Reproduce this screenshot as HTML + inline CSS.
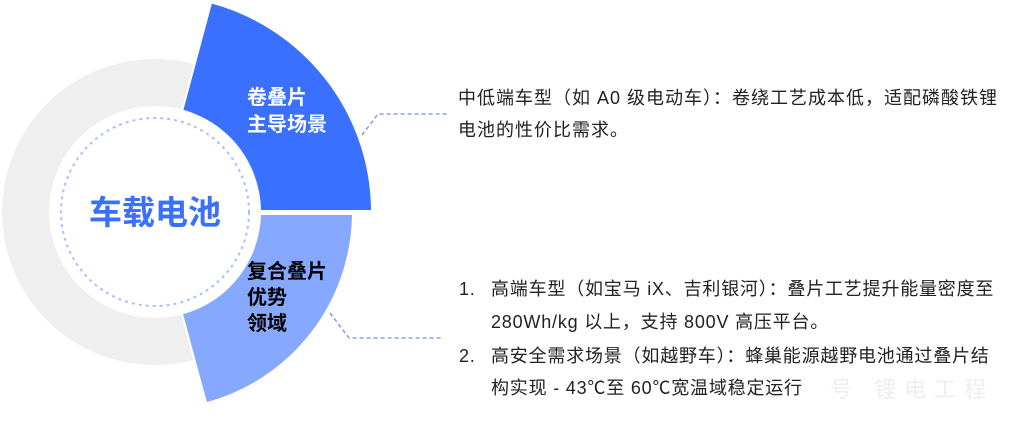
<!DOCTYPE html>
<html><head><meta charset="utf-8"><style>
html,body{margin:0;padding:0;background:#fff;}
body{width:1024px;height:437px;position:relative;overflow:hidden;font-family:"Liberation Sans","Noto Sans CJK SC",sans-serif;}
.t{position:absolute;font-size:18px;color:#222;white-space:nowrap;line-height:32px;letter-spacing:0.8px;}
</style></head><body>
<svg width="1024" height="437" style="position:absolute;left:0;top:0">
<circle cx="155" cy="212" r="153" fill="#efefef"/>
<path d="M211.2,2.4 A217,217 0 0 1 372,212 L260,212 L182.2,110.6 Z" fill="#3a70ff" stroke="#fff" stroke-width="2" stroke-linejoin="round"/>
<path d="M353,214 A198,198 0 0 1 206.2,403.3 L182,314 L260,214 Z" fill="#87a8ff" stroke="#fff" stroke-width="2" stroke-linejoin="round"/>
<rect x="255" y="210" width="130" height="4" fill="#fff"/>
<circle cx="155" cy="212" r="106" fill="#fff"/>
<circle cx="155" cy="212" r="94" fill="none" stroke="#a9c0ff" stroke-width="2" stroke-dasharray="3,4"/>
<text x="155" y="224" text-anchor="middle" font-family="Liberation Sans,Noto Sans CJK SC,sans-serif" font-weight="bold" font-size="33" fill="#3a70ff">车载电池</text>
<text x="247" y="104" font-family="Liberation Sans,Noto Sans CJK SC,sans-serif" font-weight="bold" font-size="20" fill="#fff">卷叠片</text>
<text x="247" y="131" font-family="Liberation Sans,Noto Sans CJK SC,sans-serif" font-weight="bold" font-size="20" fill="#fff">主导场景</text>
<text x="247" y="278" font-family="Liberation Sans,Noto Sans CJK SC,sans-serif" font-weight="bold" font-size="20" fill="#000">复合叠片</text>
<text x="247" y="304" font-family="Liberation Sans,Noto Sans CJK SC,sans-serif" font-weight="bold" font-size="20" fill="#000">优势</text>
<text x="247" y="330" font-family="Liberation Sans,Noto Sans CJK SC,sans-serif" font-weight="bold" font-size="20" fill="#000">领域</text>
<polyline points="362,135 378,114 448,114" fill="none" stroke="#6f8fef" stroke-width="1.3" stroke-dasharray="4,3"/>
<polyline points="330,313 349,338 441,338" fill="none" stroke="#6f8fef" stroke-width="1.3" stroke-dasharray="4,3"/>
</svg>
<div class="t" style="left:458px;top:82px;letter-spacing:1px">中低端车型（如 A0 级电动车）：卷绕工艺成本低，适配磷酸铁锂</div>
<div class="t" style="left:458px;top:114px;letter-spacing:1px">电池的性价比需求。</div>
<div class="t" style="left:459px;top:273px">1.</div>
<div class="t" style="left:491px;top:273px">高端车型（如宝马 iX、吉利银河）：叠片工艺提升能量密度至</div>
<div class="t" style="left:491px;top:306px">280Wh/kg 以上，支持 800V 高压平台。</div>
<div class="t" style="left:459px;top:340px">2.</div>
<div class="t" style="left:491px;top:340px">高安全需求场景（如越野车）：蜂巢能源越野电池通过叠片结</div>
<div class="t" style="left:491px;top:372px">构实现 - 43℃至 60℃宽温域稳定运行</div>
<div class="t" style="left:830px;top:374px;color:#eeeeee;font-size:22px;letter-spacing:8px">号 锂电工程</div>
</body></html>
